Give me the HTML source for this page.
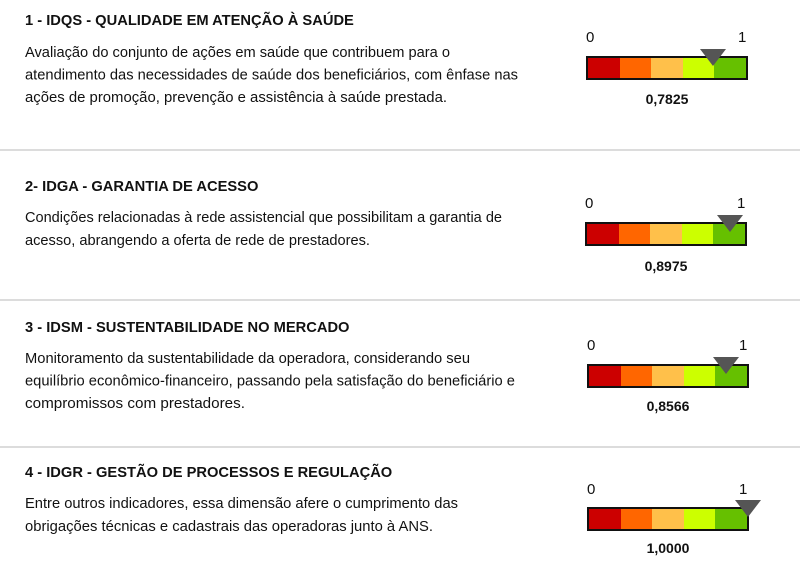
<!DOCTYPE html>
<html><head><meta charset="utf-8"><style>
body{margin:0;width:800px;height:570px;background:#fff;position:relative;overflow:hidden;font-family:"Liberation Sans",Arial,sans-serif;color:#111}
.t{position:absolute;left:25px;font-weight:bold;font-size:14.7px;white-space:nowrap}
.sep{position:absolute;left:0;width:800px;height:2px;background:#dcdcdc}
.bar{position:absolute;width:158px;height:20px;border:2px solid #111;display:flex}
.bar div{flex:1}
.lbl{position:absolute;font-size:15px}
.v{position:absolute;font-weight:bold;font-size:14px;width:162px;text-align:center}
.tri{position:absolute;width:0;height:0;border-left:13px solid transparent;border-right:13px solid transparent;border-top:17px solid #555}
svg{position:absolute;left:0;top:0}
svg text{font-family:"Liberation Sans",Arial,sans-serif;font-size:15px;fill:#111}
</style></head><body>

<div class="t" style="top:13px">1 - IDQS - QUALIDADE EM ATENÇÃO À SAÚDE</div>
<div class="sep" style="top:149px"></div>
<div class="t" style="top:179px">2- IDGA - GARANTIA DE ACESSO</div>
<div class="sep" style="top:299px"></div>
<div class="t" style="top:320px">3 - IDSM - SUSTENTABILIDADE NO MERCADO</div>
<div class="sep" style="top:446px"></div>
<div class="t" style="top:465px">4 - IDGR - GESTÃO DE PROCESSOS E REGULAÇÃO</div>

<svg width="560" height="570">
<text x="25" y="57" textLength="425" lengthAdjust="spacingAndGlyphs">Avaliação do conjunto de ações em saúde que contribuem para o</text>
<text x="25" y="79.5" textLength="493" lengthAdjust="spacingAndGlyphs">atendimento das necessidades de saúde dos beneficiários, com ênfase nas</text>
<text x="25" y="102" textLength="422" lengthAdjust="spacingAndGlyphs">ações de promoção, prevenção e assistência à saúde prestada.</text>
<text x="25" y="222" textLength="477" lengthAdjust="spacingAndGlyphs">Condições relacionadas à rede assistencial que possibilitam a garantia de</text>
<text x="25" y="245" textLength="345" lengthAdjust="spacingAndGlyphs">acesso, abrangendo a oferta de rede de prestadores.</text>
<text x="25" y="363" textLength="445" lengthAdjust="spacingAndGlyphs">Monitoramento da sustentabilidade da operadora, considerando seu</text>
<text x="25" y="385.5" textLength="490" lengthAdjust="spacingAndGlyphs">equilíbrio econômico-financeiro, passando pela satisfação do beneficiário e</text>
<text x="25" y="408" textLength="220" lengthAdjust="spacingAndGlyphs">compromissos com prestadores.</text>
<text x="25" y="508" textLength="433" lengthAdjust="spacingAndGlyphs">Entre outros indicadores, essa dimensão afere o cumprimento das</text>
<text x="25" y="531" textLength="408" lengthAdjust="spacingAndGlyphs">obrigações técnicas e cadastrais das operadoras junto à ANS.</text>
</svg>

<div class="lbl" style="left:586px;top:29px">0</div><div class="lbl" style="left:738px;top:29px">1</div>
<div class="bar" style="left:586px;top:56px"><div style="background:#cc0000"></div><div style="background:#ff6600"></div><div style="background:#ffc04a"></div><div style="background:#ccff00"></div><div style="background:#66c000"></div></div>
<div class="tri" style="left:700px;top:49px"></div>
<div class="v" style="left:586px;top:91px">0,7825</div>

<div class="lbl" style="left:585px;top:195px">0</div><div class="lbl" style="left:737px;top:195px">1</div>
<div class="bar" style="left:585px;top:222px"><div style="background:#cc0000"></div><div style="background:#ff6600"></div><div style="background:#ffc04a"></div><div style="background:#ccff00"></div><div style="background:#66c000"></div></div>
<div class="tri" style="left:717px;top:215px"></div>
<div class="v" style="left:585px;top:258px">0,8975</div>

<div class="lbl" style="left:587px;top:337px">0</div><div class="lbl" style="left:739px;top:337px">1</div>
<div class="bar" style="left:587px;top:364px"><div style="background:#cc0000"></div><div style="background:#ff6600"></div><div style="background:#ffc04a"></div><div style="background:#ccff00"></div><div style="background:#66c000"></div></div>
<div class="tri" style="left:713px;top:357px"></div>
<div class="v" style="left:587px;top:398px">0,8566</div>

<div class="lbl" style="left:587px;top:481px">0</div><div class="lbl" style="left:739px;top:481px">1</div>
<div class="bar" style="left:587px;top:507px"><div style="background:#cc0000"></div><div style="background:#ff6600"></div><div style="background:#ffc04a"></div><div style="background:#ccff00"></div><div style="background:#66c000"></div></div>
<div class="tri" style="left:735px;top:500px"></div>
<div class="v" style="left:587px;top:540px">1,0000</div>

</body></html>
